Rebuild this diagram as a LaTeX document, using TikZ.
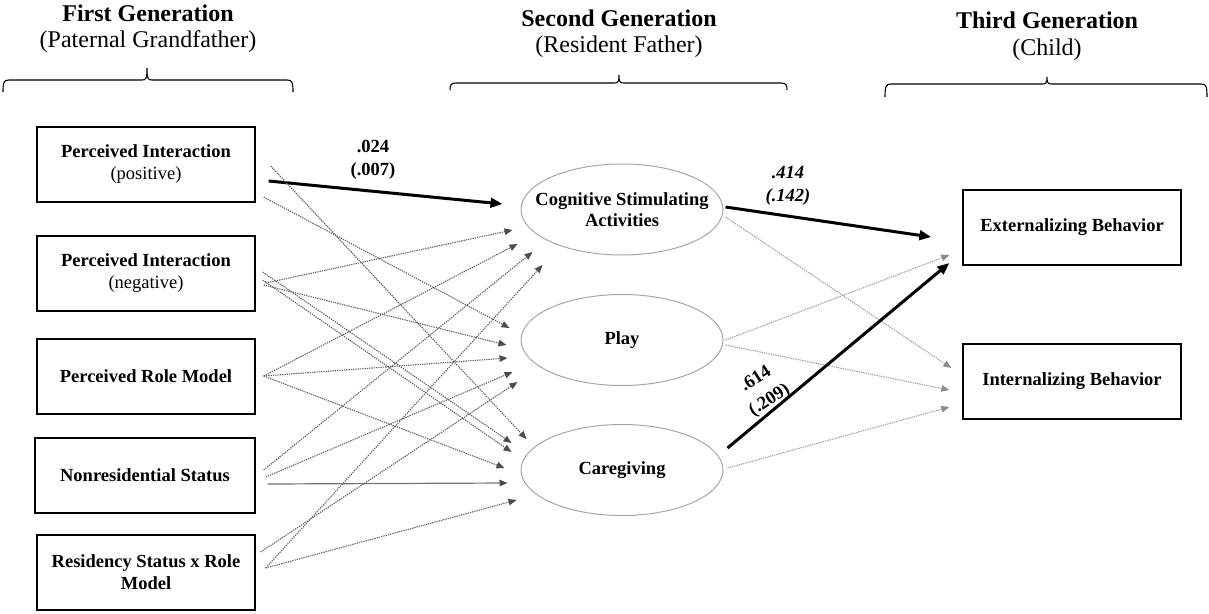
\documentclass[tikz,border=0pt]{standalone}
\usepackage{fontspec}
\setmainfont{Liberation Serif}
\usetikzlibrary{arrows.meta,shapes.geometric}
\newcommand{\genbrace}[6]{%
 \draw[line width=1.1pt] (#1,#5) .. controls (#1,#4+2) and (#1+1,#4) .. (#1+6,#4) -- (#3-5,#4) .. controls (#3-1,#4) and (#3,#4-1) .. (#3,#6) .. controls (#3,#4-1) and (#3+1,#4) .. (#3+5,#4) -- (#2-6,#4) .. controls (#2-1,#4) and (#2,#4+2) .. (#2,#5);}
\begin{document}
\begin{tikzpicture}[x=1pt,y=-1pt,
  hdr/.style={anchor=base, inner sep=0, font=\fontsize{24}{28}\selectfont\bfseries},
  sub/.style={anchor=base, inner sep=0, font=\fontsize{24}{28}\selectfont},
  box/.style={draw=black, line width=1.3pt, minimum width=218pt, minimum height=75pt, inner sep=0, align=center, font=\fontsize{18.5}{22}\selectfont\bfseries},
  ell/.style={ellipse, draw=black!35, line width=1pt, minimum width=202pt, minimum height=91pt, inner sep=0},
  elltxt/.style={align=center, inner sep=0, font=\fontsize{18.5}{21}\selectfont\bfseries},
  coef/.style={align=center, inner sep=0, font=\fontsize{18.5}{23}\selectfont\bfseries},
  dotarr/.style={draw=black!62, line width=1.1pt, dash pattern=on 1.3pt off 1pt, -{Triangle[length=8pt,width=6.5pt,color=black!70,fill=black!70]}},
  dotarrl/.style={draw=black!38, line width=1.1pt, dash pattern=on 1.3pt off 1pt, -{Triangle[length=8pt,width=6.5pt,color=black!45,fill=black!45]}},
  solarr/.style={draw=black!55, line width=1.2pt, -{Triangle[length=8pt,width=6.5pt,color=black!70,fill=black!70]}},
  thickarr/.style={draw=black, line width=3pt, -{Triangle[length=12pt,width=9.5pt]}}
]
\useasboundingbox (0,0) rectangle (1209,613);

% headers
\node[hdr] (h1) at (148,21) {First Generation};
\node[sub] (h1s) at (148,47) {(Paternal Grandfather)};
\node[hdr] (h2) at (619,27) {Second Generation};
\node[sub] (h2s) at (619,52) {(Resident Father)};
\node[hdr] (h3) at (1047,28) {Third Generation};
\node[sub] (h3s) at (1047,55) {(Child)};

% braces
\genbrace{3}{293}{147}{80}{92}{68}
\genbrace{450}{787}{619}{83}{90}{75}
\genbrace{885}{1207}{1047}{84}{97}{77}

% first generation boxes
\node[box] (b1) at (146,164.5) {Perceived Interaction\\{\mdseries (positive)}};
\node[box] (b2) at (146,273.5) {Perceived Interaction\\{\mdseries (negative)}};
\node[box] (b3) at (146,376.5) {Perceived Role Model};
\node[box, minimum width=220pt] (b4) at (145,475.5) {Nonresidential Status};
\node[box] (b5) at (146,572.5) {Residency Status x Role\\Model};

% second generation ellipses
\node[ell, label={[elltxt]center:Cognitive Stimulating\\Activities}] (cog) at (622,209.5) {};
\node[ell, label={[elltxt]center:Play}] (play) at (622,340) {};
\node[ell, label={[elltxt]center:Caregiving}] (care) at (622,470) {};

% third generation boxes
\node[box] (ext) at (1072,227.5) {Externalizing Behavior};
\node[box] (int) at (1072,381.5) {Internalizing Behavior};

% first -> second
\draw[thickarr] ([shift={(13,16.5)}]b1.east) -- ([shift={(-18,-5.5)}]cog.west);
\draw[dotarr] ([shift={(15,1.5)}]b1.east) -- ([shift={(6,-31)}]care.west);
\draw[dotarr] ([shift={(8,32.5)}]b1.east) -- ([shift={(-11,-12)}]play.west);

\draw[dotarr] ([shift={(10,9.5)}]b2.east) -- ([shift={(-8,20.5)}]cog.west);
\draw[dotarr] ([shift={(8,11.5)}]b2.east) -- ([shift={(-14,5)}]play.west);
\draw[dotarr] ([shift={(7,-1.5)}]b2.east) -- ([shift={(-9,-27)}]care.west);
\draw[dotarr] ([shift={(7,6.5)}]b2.east) -- ([shift={(-9,-18)}]care.west);

\draw[dotarr] ([shift={(8,-0.5)}]b3.east) -- ([shift={(-3,34.5)}]cog.west);
\draw[dotarr] ([shift={(8,-0.5)}]b3.east) -- ([shift={(-13,18)}]play.west);
\draw[dotarr] ([shift={(8,-0.5)}]b3.east) -- ([shift={(-16,-2)}]care.west);

\draw[dotarr] ([shift={(8,-5.5)}]b4.east) -- ([shift={(12,42.5)}]cog.west);
\draw[dotarr] ([shift={(10,1.5)}]b4.east) -- ([shift={(-8,32)}]play.west);
\draw[solarr] ([shift={(12,8.5)}]b4.east) -- ([shift={(-13,13)}]care.west);

\draw[dotarr] ([shift={(10,-4.5)}]b5.east) -- ([shift={(22,55.5)}]cog.west);
\draw[dotarr] ([shift={(5,-20.5)}]b5.east) -- ([shift={(-3,42)}]play.west);
\draw[dotarr] ([shift={(10,-4.5)}]b5.east) -- ([shift={(-4,30)}]care.west);

% second -> third
\draw[thickarr] ([shift={(2,-2.5)}]cog.east) -- ([shift={(-31,9.5)}]ext.west);
\draw[dotarrl] ([shift={(2,7.5)}]cog.east) -- ([shift={(-11,-13.5)}]int.west);
\draw[dotarrl] ([shift={(2,0)}]play.east) -- ([shift={(-13,27.5)}]ext.west);
\draw[dotarrl] ([shift={(2,5)}]play.east) -- ([shift={(-13,8.5)}]int.west);
\draw[thickarr] ([shift={(4,-22)}]care.east) -- ([shift={(-13,35.5)}]ext.west);
\draw[dotarrl] ([shift={(4,-2)}]care.east) -- ([shift={(-13,25.5)}]int.west);

% coefficients
\node[coef] (lab1) at (373,160) {.024\\(.007)};
\node[coef, font=\fontsize{18.5}{23}\selectfont\bfseries\itshape] (lab2) at (788,186) {.414\\(.142)};
\node[coef, rotate=33, font=\fontsize{18.5}{25}\selectfont\bfseries] (lab3) at (763,390) {.614\\(.209)};
\end{tikzpicture}
\end{document}
